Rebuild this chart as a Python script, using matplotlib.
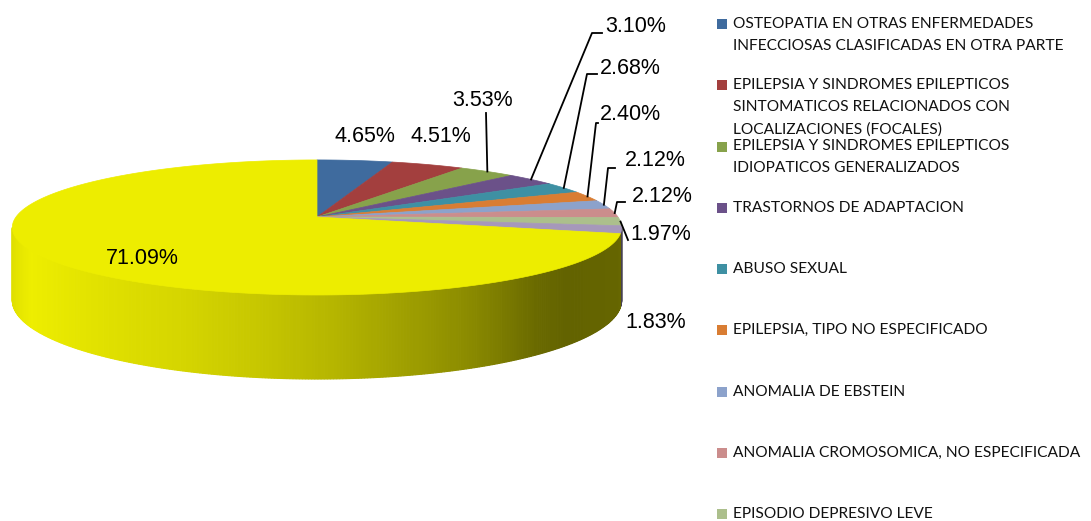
import numpy as np
import matplotlib
matplotlib.use("Agg")
import matplotlib.pyplot as plt
from matplotlib.patches import Polygon, Rectangle

# Slice values (%) in drawing order, clockwise from 12 o'clock
values = [4.65, 4.51, 3.53, 3.10, 2.68, 2.40, 2.12, 2.12, 1.97, 1.83, 71.09]
pct_labels = ["4.65%", "4.51%", "3.53%", "3.10%", "2.68%", "2.40%",
              "2.12%", "2.12%", "1.97%", "1.83%", "71.09%"]

# Only the first nine legend entries fit in the original chart
legend_labels = [
    "OSTEOPATIA EN OTRAS ENFERMEDADES\nINFECCIOSAS CLASIFICADAS EN OTRA PARTE",
    "EPILEPSIA Y SINDROMES EPILEPTICOS\nSINTOMATICOS RELACIONADOS CON\nLOCALIZACIONES (FOCALES)",
    "EPILEPSIA Y SINDROMES EPILEPTICOS\nIDIOPATICOS GENERALIZADOS",
    "TRASTORNOS DE ADAPTACION",
    "ABUSO SEXUAL",
    "EPILEPSIA, TIPO NO ESPECIFICADO",
    "ANOMALIA DE EBSTEIN",
    "ANOMALIA CROMOSOMICA, NO ESPECIFICADA",
    "EPISODIO DEPRESIVO LEVE",
]

colors = ["#3f6b9e", "#a33f3e", "#87a24b", "#6b5189", "#3e90a3", "#d97d33",
          "#8ca2cb", "#cb8d8c", "#acbf8c", "#a698ba", "#eded00"]

# label text placement (pixels) and leader elbows
label_pos = [(365, 137), (441, 137), (483, 100), (605, 27), (600, 68), (600, 115),
             (625, 160), (632, 196), (630, 235), (625, 322), (142, 258)]
label_ha = ["center", "center", "center", "left", "left", "left",
            "left", "left", "left", "left", "center"]
leader_elbow = [None, None, (486, 113), (592, 33), (587, 74), (596, 123),
                (608, 168), (617, 202), (628, 240), None, None]
tick_len = [0, 0, 0, 10, 10, 2, 7, 8, 0, 0, 0]

# 3D pie projection (pixel space)
CX, CY = 317, 217
RX, A, P, T = 301, 65.9, 0.155, 71


def proj(t_deg, depth=0.0):
    t = np.radians(t_deg)
    u, v = np.cos(t), np.sin(t)
    d = 1 + P * v
    return CX + RX * u / d, CY + (-A * v + T * depth) / d


# side shading vs horizontal position on the rim
shade_u = [-1.0, -0.88, -0.61, -0.38, -0.18, 0.05, 0.28, 0.44, 0.64, 0.74, 0.94, 1.0]
shade_k = [0.93, 1.0, 0.94, 0.895, 0.84, 0.76, 0.655, 0.58, 0.445, 0.415, 0.425, 0.445]

fig = plt.figure(figsize=(10.91, 5.21), dpi=100)
ax = fig.add_axes([0, 0, 1, 1])
ax.set_xlim(0, 1091)
ax.set_ylim(521, 0)
ax.axis("off")

total = sum(values)
cum = np.concatenate([[0], np.cumsum(values)]) / total * 360
starts = 90 - cum[:-1]
ends = 90 - cum[1:]

# walls first
for i in range(len(values)):
    ts = np.linspace(starts[i], ends[i], max(3, int(abs(ends[i] - starts[i]) * 2)))
    base = np.array(matplotlib.colors.to_rgb(colors[i]))
    for a, b in zip(ts[:-1], ts[1:]):
        m = np.radians((a + b) / 2)
        if np.sin(m) >= -P:
            continue
        k = np.interp(np.cos(m), shade_u, shade_k)
        if i == len(values) - 1:
            c = np.array([238, 238, 0]) / 255 * k
        else:
            c = base * k
        pts = [proj(a), proj(b), proj(b, 1), proj(a, 1)]
        ax.add_patch(Polygon(pts, closed=True, facecolor=c, edgecolor=c, lw=0.8))

# top faces
for i in range(len(values)):
    ts = np.linspace(starts[i], ends[i], max(3, int(abs(ends[i] - starts[i]) * 2)))
    pts = [(CX, CY)] + [proj(t) for t in ts]
    ax.add_patch(Polygon(pts, closed=True, facecolor=colors[i], edgecolor=colors[i], lw=0.5))

# data labels and leader lines
for i in range(len(values)):
    x, y = label_pos[i]
    ax.text(x, y, pct_labels[i], ha=label_ha[i], va="center", fontsize=15.5,
            family="Liberation Sans", color="black")
    if leader_elbow[i] is not None:
        ex, ey = proj((starts[i] + ends[i]) / 2)
        bx, by = leader_elbow[i]
        ax.plot([ex, bx, bx + tick_len[i]], [ey, by, by], color="black", lw=1.3)

# legend
for j, lab in enumerate(legend_labels):
    y0 = 24 + 61.25 * j
    ax.add_patch(Rectangle((717, y0 - 5), 10, 10, facecolor=colors[j], edgecolor="none"))
    for n, line in enumerate(lab.split("\n")):
        ax.text(733, y0 + 22 * n, line, ha="left", va="center", fontsize=11.2,
                family="Lato", color="#111111")

fig.savefig("out.png", dpi=100)
